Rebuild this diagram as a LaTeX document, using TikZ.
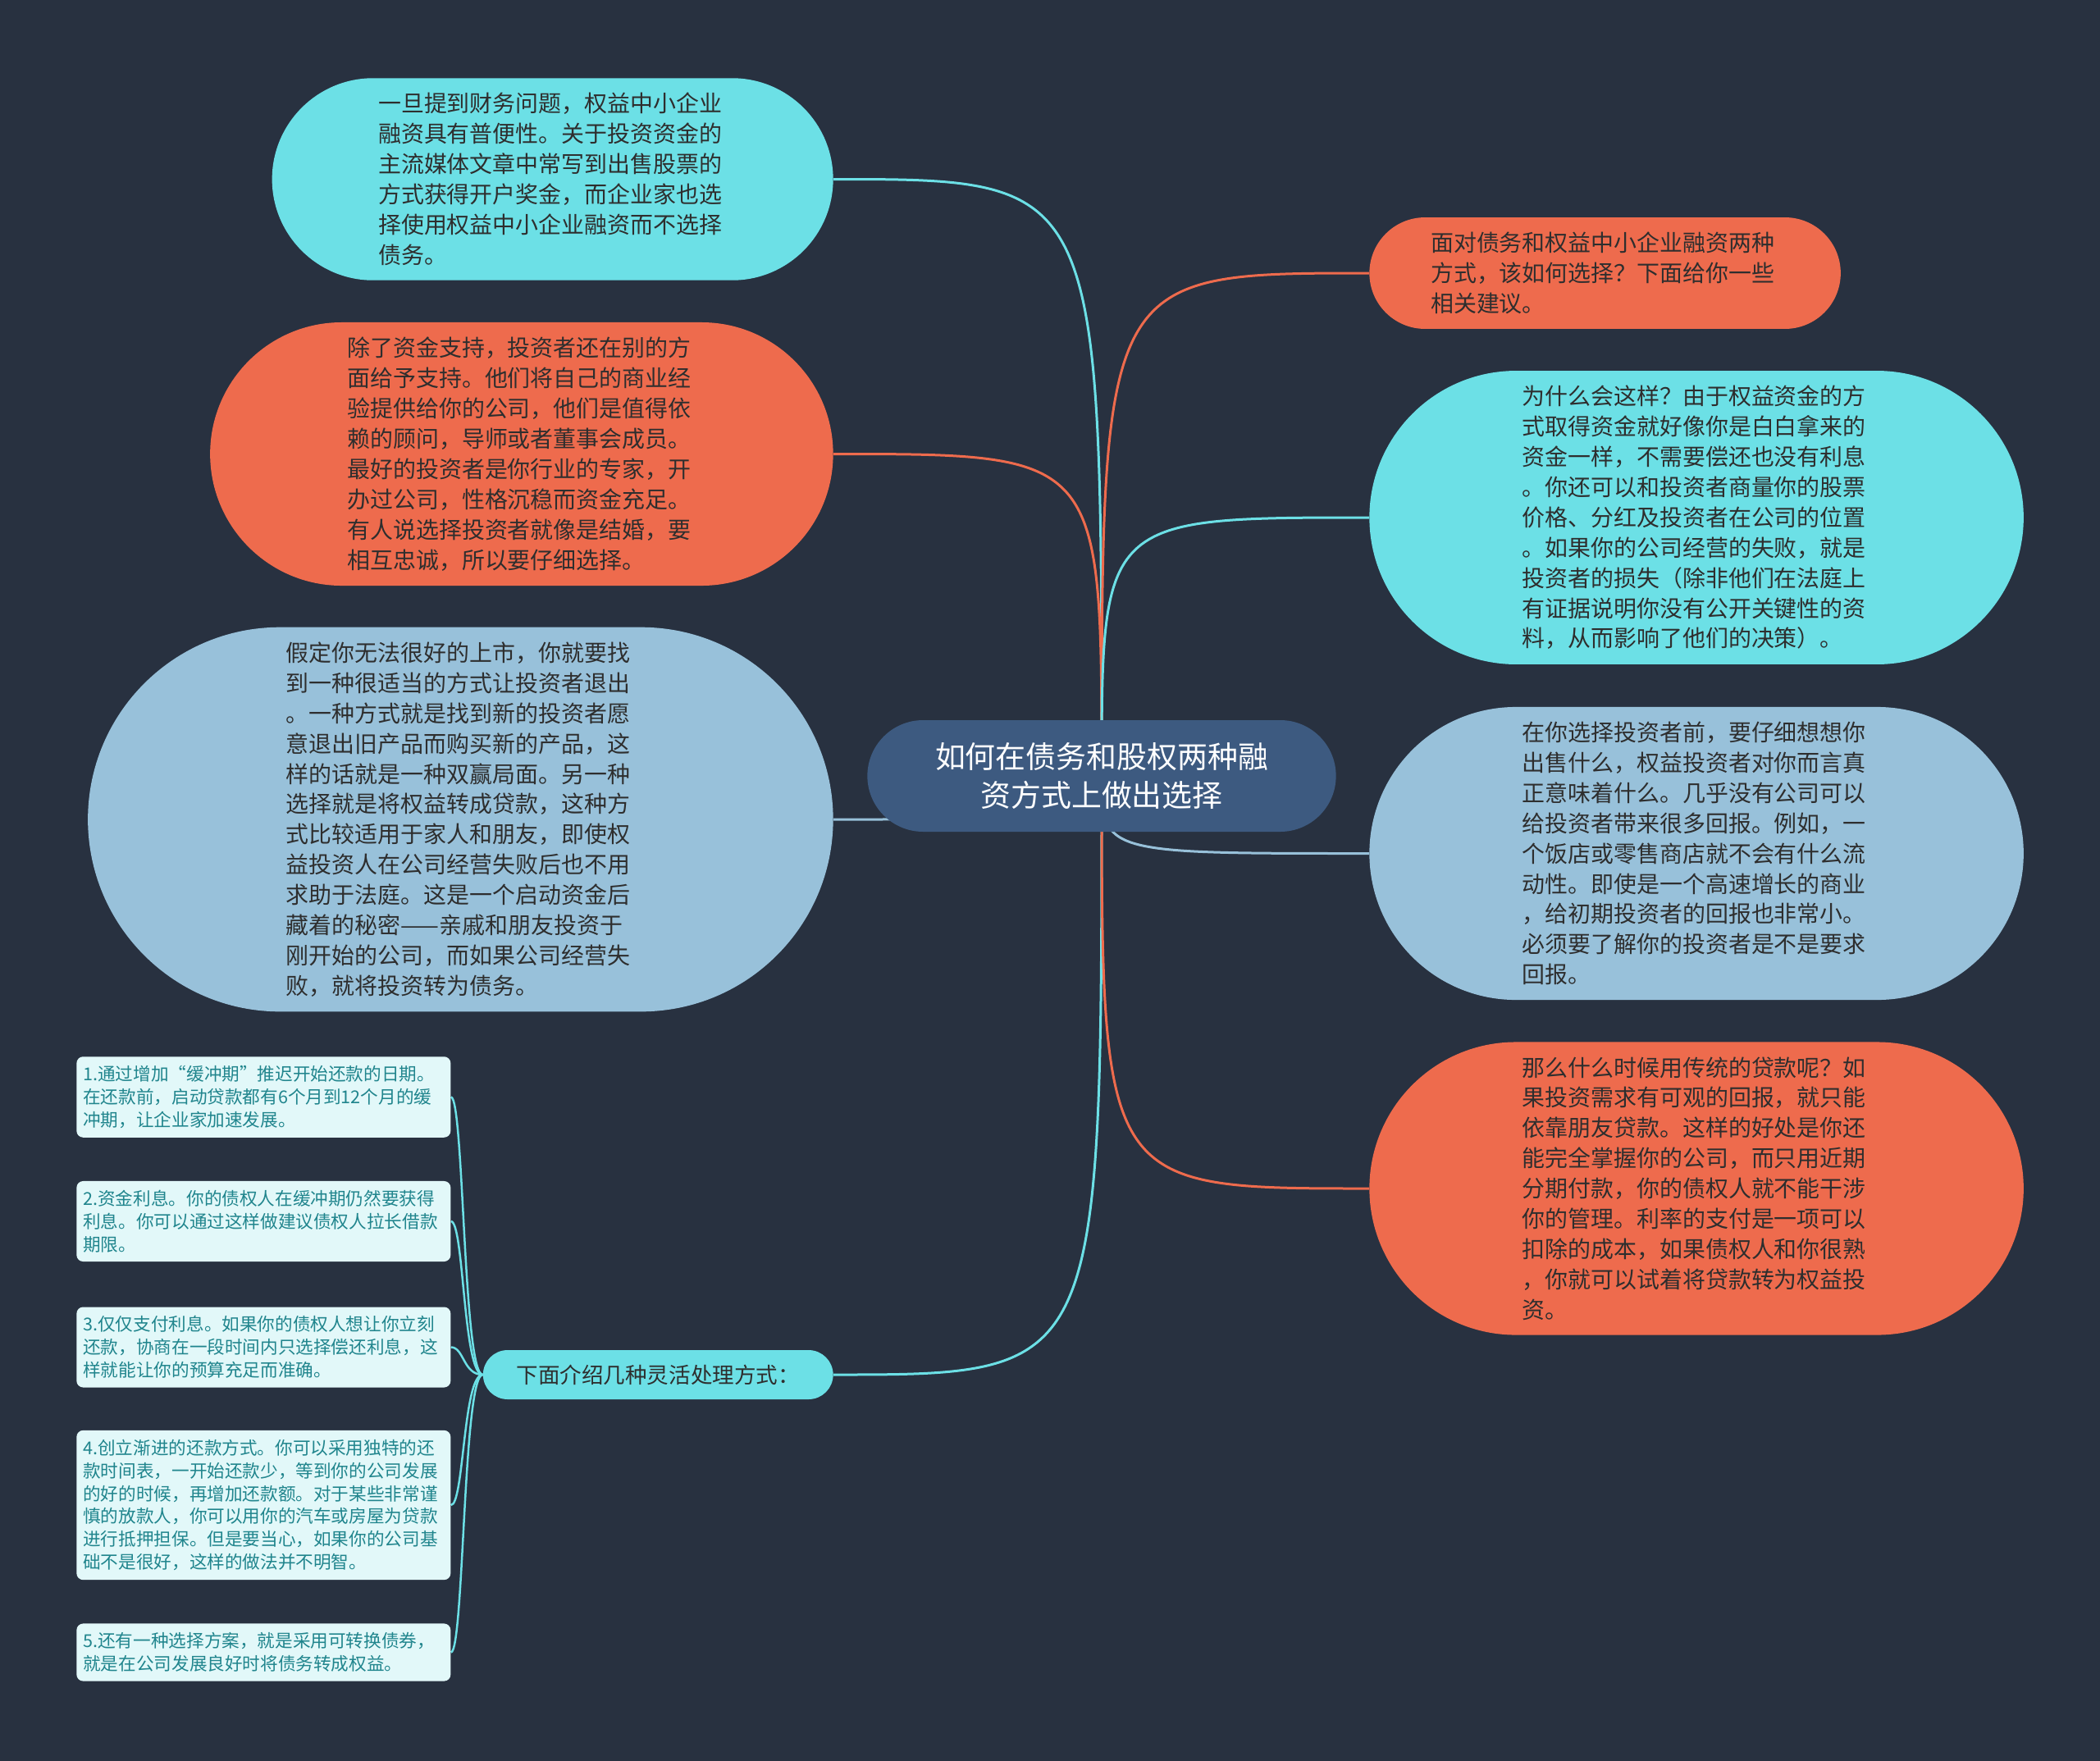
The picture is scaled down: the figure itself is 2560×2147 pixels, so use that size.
\documentclass[tikz,border=0pt]{standalone}
\usepackage{fontspec}
\setmainfont{Noto Sans CJK SC}
\usetikzlibrary{shapes.misc}

\definecolor{bgnavy}{HTML}{283140}
\definecolor{rootblue}{HTML}{3D5A80}
\definecolor{cyanfill}{HTML}{6CE0E6}
\definecolor{orangefill}{HTML}{EE6B4D}
\definecolor{paleblue}{HTML}{98C1DA}
\definecolor{itemfill}{HTML}{E2F8F9}
\definecolor{itemtext}{HTML}{20858D}
\definecolor{bodytext}{HTML}{2E2E2E}

\pgfdeclarelayer{back}
\pgfdeclarelayer{links}
\pgfsetlayers{back,links,main}

\tikzset{
	topic/.style = {rounded rectangle, fill = #1, text = bodytext, text width = 85mm, align = left,
		inner xsep = 1mm, inner ysep = 3.6mm, font = \fontsize{15.9}{21}\selectfont},
	item/.style = {rectangle, rounded corners = 1.6mm, fill = itemfill, text = itemtext, text width = 88mm,
		align = left, inner xsep = 1.6mm, inner ysep = 2.2mm, font = \fontsize{12.3}{15.9}\selectfont, anchor = west},
	link/.style = {draw = #1, line width = 0.6mm},
}

\begin{document}
\begin{tikzpicture} [x = 0.2mm, y = -0.2mm]
	\useasboundingbox (0,0) rectangle (2560,2147);
	\begin{pgfonlayer}{back}
	\fill [bgnavy] (0,0) rectangle (2560,2147);
	\end{pgfonlayer}
	% centre
	\node [rounded rectangle, fill = rootblue, text = white, align = center, minimum width = 116.6mm, minimum height = 27.2mm,
		font = \fontsize{21}{26.6}\selectfont] (root) at (1343,946) {如何在债务和股权两种融\\资方式上做出选择};
	% left side
	\node [topic = cyanfill, minimum width = 138.8mm, anchor = east] (equity) at (1016,218.5) {一旦提到财务问题，权益中小企业\\融资具有普便性。关于投资资金的\\主流媒体文章中常写到出售股票的\\方式获得开户奖金，而企业家也选\\择使用权益中小企业融资而不选择\\债务。};
	\node [topic = orangefill, minimum width = 153.9mm, anchor = east] (support) at (1016,553.5) {除了资金支持，投资者还在别的方\\面给予支持。他们将自己的商业经\\验提供给你的公司，他们是值得依\\赖的顾问，导师或者董事会成员。\\最好的投资者是你行业的专家，开\\办过公司，性格沉稳而资金充足。\\有人说选择投资者就像是结婚，要\\相互忠诚，所以要仔细选择。};
	\node [topic = paleblue, minimum width = 183.7mm, anchor = east] (exit) at (1016,999) {假定你无法很好的上市，你就要找\\到一种很适当的方式让投资者退出\\。一种方式就是找到新的投资者愿\\意退出旧产品而购买新的产品，这\\样的话就是一种双赢局面。另一种\\选择就是将权益转成贷款，这种方\\式比较适用于家人和朋友，即使权\\益投资人在公司经营失败后也不用\\求助于法庭。这是一个启动资金后\\藏着的秘密——亲戚和朋友投资于\\刚开始的公司，而如果公司经营失\\败，就将投资转为债务。};
	\node [rounded rectangle, fill = cyanfill, text = bodytext, minimum width = 87.7mm, minimum height = 12mm,
		font = \fontsize{15.1}{18}\selectfont, anchor = east] (ways) at (1016,1676) {下面介绍几种灵活处理方式：};
	% right side
	\node [topic = orangefill, minimum width = 116.9mm, anchor = west] (advice) at (1669,333) {面对债务和权益中小企业融资两种\\方式，该如何选择？下面给你一些\\相关建议。};
	\node [topic = cyanfill, minimum width = 161.5mm, anchor = west] (why) at (1669,631) {为什么会这样？由于权益资金的方\\式取得资金就好像你是白白拿来的\\资金一样，不需要偿还也没有利息\\。你还可以和投资者商量你的股票\\价格、分红及投资者在公司的位置\\。如果你的公司经营的失败，就是\\投资者的损失（除非他们在法庭上\\有证据说明你没有公开关键性的资\\料，从而影响了他们的决策）。};
	\node [topic = paleblue, minimum width = 161.5mm, anchor = west] (before) at (1669,1040.5) {在你选择投资者前，要仔细想想你\\出售什么，权益投资者对你而言真\\正意味着什么。几乎没有公司可以\\给投资者带来很多回报。例如，一\\个饭店或零售商店就不会有什么流\\动性。即使是一个高速增长的商业\\，给初期投资者的回报也非常小。\\必须要了解你的投资者是不是要求\\回报。};
	\node [topic = orangefill, minimum width = 161.5mm, anchor = west] (loan) at (1669,1449) {那么什么时候用传统的贷款呢？如\\果投资需求有可观的回报，就只能\\依靠朋友贷款。这样的好处是你还\\能完全掌握你的公司，而只用近期\\分期付款，你的债权人就不能干涉\\你的管理。利率的支付是一项可以\\扣除的成本，如果债权人和你很熟\\，你就可以试着将贷款转为权益投\\资。};
	% the five ways
	\node [item] (way1) at (93,1337.5) {1.通过增加“缓冲期”推迟开始还款的日期。\\在还款前，启动贷款都有6个月到12个月的缓\\冲期，让企业家加速发展。};
	\node [item] (way2) at (93,1489) {2.资金利息。你的债权人在缓冲期仍然要获得\\利息。你可以通过这样做建议债权人拉长借款\\期限。};
	\node [item] (way3) at (93,1642.5) {3.仅仅支付利息。如果你的债权人想让你立刻\\还款，协商在一段时间内只选择偿还利息，这\\样就能让你的预算充足而准确。};
	\node [item] (way4) at (93,1835) {4.创立渐进的还款方式。你可以采用独特的还\\款时间表，一开始还款少，等到你的公司发展\\的好的时候，再增加还款额。对于某些非常谨\\慎的放款人，你可以用你的汽车或房屋为贷款\\进行抵押担保。但是要当心，如果你的公司基\\础不是很好，这样的做法并不明智。};
	\node [item] (way5) at (93,2014.5) {5.还有一种选择方案，就是采用可转换债券，\\就是在公司发展良好时将债务转成权益。};
	\begin{pgfonlayer}{links}
	\draw [link = cyanfill] (root.center) .. controls (root.center |- equity.east) .. (equity.east);
	\draw [link = orangefill] (root.center) .. controls (root.center |- support.east) .. (support.east);
	\draw [link = paleblue] (root.center) .. controls (root.center |- exit.east) .. (exit.east);
	\draw [link = cyanfill] (root.center) .. controls (root.center |- ways.east) .. (ways.east);
	\draw [link = orangefill] (root.center) .. controls (root.center |- advice.west) .. (advice.west);
	\draw [link = cyanfill] (root.center) .. controls (root.center |- why.west) .. (why.west);
	\draw [link = paleblue] (root.center) .. controls (root.center |- before.west) .. (before.west);
	\draw [link = orangefill] (root.center) .. controls (root.center |- loan.west) .. (loan.west);
	\foreach \i in {1,...,5}
		\draw [link = cyanfill, line width = 0.5mm] (ways.west) .. controls +(-24,0) and +(16,0) .. (way\i.east);
	\end{pgfonlayer}
\end{tikzpicture}
\end{document}
